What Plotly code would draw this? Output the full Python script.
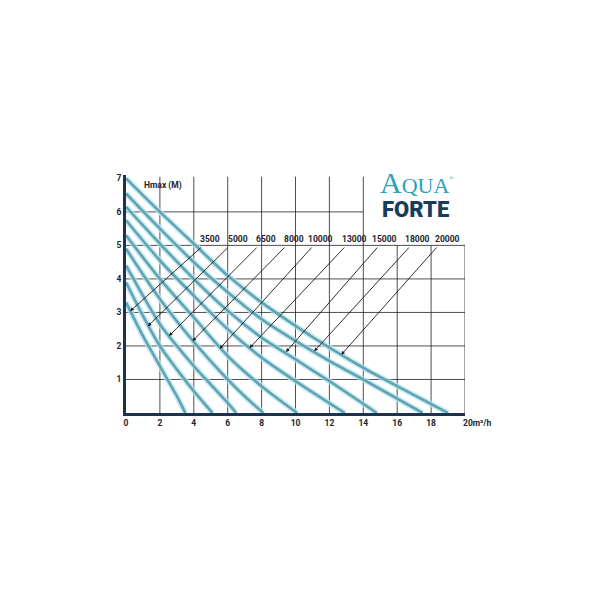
import plotly.graph_objects as go

# ---- data ----
models = ["3500", "5000", "6500", "8000", "10000", "13000", "15000", "18000", "20000"]

flow_3500 = [0, 1, 2, 3, 3.5]
head_3500 = [3.3, 2.3, 1.4, 0.5, 0]
flow_5000 = [0, 1, 2, 3, 4, 5.1]
head_5000 = [3.9, 2.9, 2.0, 1.3, 0.65, 0]
flow_6500 = [0, 1, 2, 3, 4, 5, 6, 6.5]
head_6500 = [4.4, 3.5, 2.65, 2.0, 1.4, 0.85, 0.3, 0]
flow_8000 = [0, 2, 4, 6, 7, 8.1]
head_8000 = [4.9, 3.4, 2.12, 1.0, 0.5, 0]
flow_10000 = [0, 2, 4, 6, 8, 10.1]
head_10000 = [5.3, 4.0, 2.85, 1.7, 0.8, 0]
flow_13000 = [0, 2, 4, 6, 8, 10, 12.9]
head_13000 = [5.75, 4.55, 3.5, 2.5, 1.65, 0.95, 0]
flow_15000 = [0, 2, 4, 6, 8, 10, 12, 14.8]
head_15000 = [6.15, 5.05, 4.0, 3.05, 2.25, 1.6, 0.95, 0]
flow_18000 = [0, 2, 4, 6, 8, 10, 12, 14, 17.5]
head_18000 = [6.55, 5.5, 4.5, 3.6, 2.8, 2.15, 1.55, 1.0, 0]
flow_20000 = [0, 2, 4, 6, 8, 10, 12, 14, 16, 19.0]
head_20000 = [7.0, 6.0, 5.05, 4.1, 3.3, 2.6, 1.95, 1.35, 0.8, 0]

flows = [flow_3500, flow_5000, flow_6500, flow_8000, flow_10000,
         flow_13000, flow_15000, flow_18000, flow_20000]
heads = [head_3500, head_5000, head_6500, head_8000, head_10000,
         head_13000, head_15000, head_18000, head_20000]

# points on each curve that the label arrows point to
tip_flow = [0.25, 1.29, 2.54, 3.93, 5.53, 7.29, 9.44, 11.1, 12.7]
tip_head = [3.04, 2.59, 2.3, 2.15, 1.92, 1.94, 1.82, 1.84, 1.74]

x_ticks = [0, 2, 4, 6, 8, 10, 12, 14, 16, 18]
y_ticks = [1, 2, 3, 4, 5, 6, 7]

# ---- layout helpers ----
label_x = [4.95, 6.6, 8.25, 9.9, 11.5, 13.5, 15.27, 17.2, 18.95]
arrow_x = [4.52, 6.1, 7.8, 9.44, 11.03, 12.96, 14.9, 16.77, 18.4]
label_y = 5.18
arrow_y = 4.98

grid_h_full = [1, 2, 3, 4, 5]
grid_h_short = [6]
grid_v_tall = [2, 4, 6, 8, 10, 12, 14]
grid_v_short = [16, 18, 20]

FONT = "Roboto, sans-serif"
INK = "#1c2230"

fig = go.Figure()

for f, h, m in zip(flows, heads, models):
    fig.add_trace(go.Scatter(x=f, y=h, mode="lines", name=m, showlegend=False,
                             line=dict(color="rgba(185,230,240,0.7)", width=6,
                                       shape="spline", smoothing=0.8),
                             hoverinfo="skip"))
    fig.add_trace(go.Scatter(x=f, y=h, mode="lines", name=m, showlegend=False,
                             line=dict(color="#62a4b4", width=2.7,
                                       shape="spline", smoothing=0.8)))

shapes = []
for y in grid_h_full:
    shapes.append(dict(type="line", xref="x", yref="y", x0=0, x1=20, y0=y, y1=y,
                       line=dict(color="#222", width=0.8), layer="below"))
for y in grid_h_short:
    shapes.append(dict(type="line", xref="x", yref="y", x0=0, x1=14, y0=y, y1=y,
                       line=dict(color="#222", width=0.8), layer="below"))
for x in grid_v_tall:
    shapes.append(dict(type="line", xref="x", yref="y", x0=x, x1=x, y0=0, y1=7.05,
                       line=dict(color="#222", width=0.8), layer="below"))
for x in grid_v_short:
    shapes.append(dict(type="line", xref="x", yref="y", x0=x, x1=x, y0=0, y1=5,
                       line=dict(color="#222", width=0.8), layer="below"))

annotations = []
for m, lx, axs, tx, ty in zip(models, label_x, arrow_x, tip_flow, tip_head):
    annotations.append(dict(x=lx, y=label_y, xref="x", yref="y", text=m,
                            showarrow=False, xanchor="center", yanchor="middle",
                            font=dict(family=FONT, size=8.5, color=INK, weight="bold")))
    annotations.append(dict(x=tx, y=ty, xref="x", yref="y", ax=axs, ay=arrow_y,
                            axref="x", ayref="y", text="", showarrow=True,
                            arrowhead=2, arrowsize=0.8, arrowwidth=0.9,
                            arrowcolor="#1a1a1a", standoff=0))

annotations.append(dict(x=0.95, y=6.8, xref="x", yref="y", text="Hmax (M)",
                        showarrow=False, xanchor="left", yanchor="middle",
                        font=dict(family=FONT, size=8.5, color=INK, weight="bold")))
annotations.append(dict(x=19.75, y=0, xref="x", yref="y", text="20m³/h",
                        showarrow=False, xanchor="left", yanchor="top", yshift=-3,
                        font=dict(family=FONT, size=8.5, color=INK, weight="bold")))
# logo
annotations.append(dict(x=17.0, y=6.87, xref="x", yref="y",
                        text='<span style="font-size:30px">A</span>QUA',
                        showarrow=False, xanchor="center", yanchor="middle",
                        font=dict(family="Liberation Serif, serif", size=22, color="#2ba2b8")))
annotations.append(dict(x=19.2, y=7.02, xref="x", yref="y", text="®",
                        showarrow=False, xanchor="center", yanchor="middle",
                        font=dict(family="Liberation Serif, serif", size=6, color="#2ba2b8")))
annotations.append(dict(x=17.1, y=6.06, xref="x", yref="y", text="FORTE",
                        showarrow=False, xanchor="center", yanchor="middle",
                        font=dict(family="Roboto, sans-serif", size=22,
                                  color="#173d5e", weight=900)))

fig.update_layout(
    width=600, height=600,
    paper_bgcolor="white", plot_bgcolor="white",
    margin=dict(l=118, r=143, t=167, b=195, pad=0),
    shapes=shapes, annotations=annotations,
    xaxis=dict(range=[0, 20], tickvals=x_ticks, ticktext=[str(v) for v in x_ticks],
               showgrid=False, zeroline=False, showline=True, linecolor="#1b3350",
               linewidth=3, ticks="", tickfont=dict(family=FONT, size=8.5, color=INK, weight="bold")),
    yaxis=dict(range=[0, 7.1], tickvals=y_ticks, ticktext=[str(v) for v in y_ticks],
               showgrid=False, zeroline=False, showline=True, linecolor="#1b3350",
               linewidth=3, ticks="", tickfont=dict(family=FONT, size=8.5, color=INK, weight="bold")),
)

fig.write_html("out.html")
